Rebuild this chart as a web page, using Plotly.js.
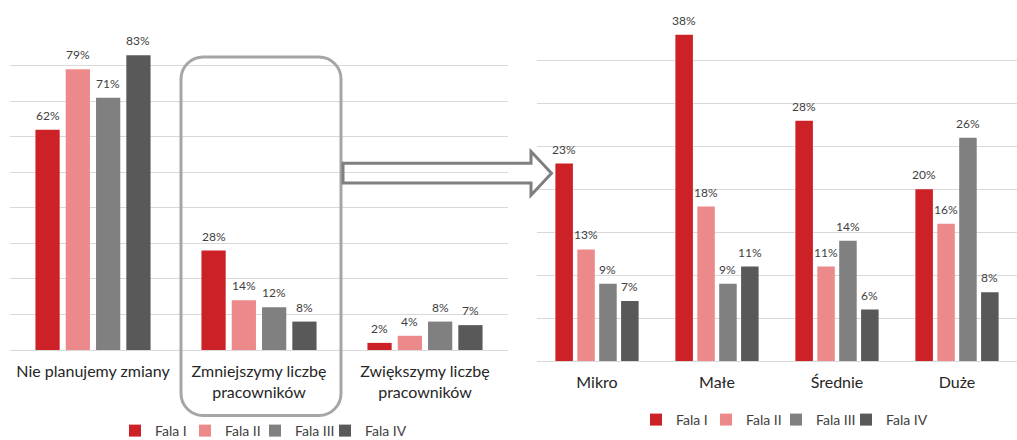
<!DOCTYPE html>
<html>
<head>
<meta charset="utf-8">
<script src="https://cdn.plot.ly/plotly-3.0.1.min.js"></script>
<style>
  html, body { margin: 0; padding: 0; background: #ffffff; }
  #chart { width: 1017px; height: 440px; }
</style>
</head>
<body>
<div id="chart"></div>
<script>
// ---- data ----
const waveNames = ['Fala I', 'Fala II', 'Fala III', 'Fala IV'];

const leftCategories = ['Nie planujemy zmiany', 'Zmniejszymy liczbę<br>pracowników', 'Zwiększymy liczbę<br>pracowników'];
const leftFala1 = [62, 28, 2];
const leftFala2 = [79, 14, 4];
const leftFala3 = [71, 12, 8];
const leftFala4 = [83, 8, 7];

const rightCategories = ['Mikro', 'Małe', 'Średnie', 'Duże'];
const rightFala1 = [23, 38, 28, 20];
const rightFala2 = [13, 18, 11, 16];
const rightFala3 = [9, 9, 14, 26];
const rightFala4 = [7, 11, 6, 8];

// ---- style ----
const colors = ['#cc2126', '#ec8a8b', '#808080', '#595959'];
const FONT = 'Lato, "Open Sans", sans-serif';
const W = 1017, H = 440, ML = 10, MR = 0, MT = 0, MB = 0;
const PW = W - ML - MR, PH = H - MT - MB;
const px = x => (x - ML) / PW;
const py = y => (H - MB - y) / PH;

const BARGAP = 0.27, BARGROUPGAP = 0.2;
const leftDomain = [px(10), px(508)];
const rightDomain = [px(537), 1];
const leftYDomain = [py(350), py(30.3)];
const rightYDomain = [py(361), py(17.7)];

const leftSeries = [leftFala1, leftFala2, leftFala3, leftFala4];
const rightSeries = [rightFala1, rightFala2, rightFala3, rightFala4];

const traces = [];
function addBars(series, cats, xa, ya, lg) {
  series.forEach((vals, i) => {
    traces.push({
      type: 'bar', x: cats, y: vals, name: waveNames[i],
      marker: { color: colors[i], line: { width: 0 } },
      xaxis: xa, yaxis: ya, legend: lg, hoverinfo: 'skip',
      legendwidth: i === series.length - 1 ? 50 : 25
    });
  });
}
addBars(leftSeries, leftCategories, 'x', 'y', 'legend');
addBars(rightSeries, rightCategories, 'x2', 'y2', 'legend2');

// value labels as annotations placed over each bar
const annotations = [];
function addLabels(series, cats, domain, xref, yref) {
  const catW = (domain[1] - domain[0]) * PW / cats.length;
  const slot = catW * (1 - BARGAP) / series.length;
  series.forEach((vals, i) => {
    vals.forEach((v, j) => {
      annotations.push({
        x: cats[j], y: v, xref: xref, yref: yref,
        text: v + '%', showarrow: false,
        xanchor: 'center', yanchor: 'bottom',
        xshift: (i - (series.length - 1) / 2) * slot,
        yshift: 5,
        font: { family: FONT, size: 12, color: '#404040' }
      });
    });
  });
}
addLabels(leftSeries, leftCategories, leftDomain, 'x', 'y');
addLabels(rightSeries, rightCategories, rightDomain, 'x2', 'y2');

// decorative shapes
function roundedRect(l, t, r, b, rad) {
  const k = 0.5523 * rad;
  const P = (x, y) => px(x) + ',' + py(y);
  return 'M' + P(l + rad, t) +
    ' L' + P(r - rad, t) +
    ' C' + P(r - rad + k, t) + ' ' + P(r, t + rad - k) + ' ' + P(r, t + rad) +
    ' L' + P(r, b - rad) +
    ' C' + P(r, b - rad + k) + ' ' + P(r - rad + k, b) + ' ' + P(r - rad, b) +
    ' L' + P(l + rad, b) +
    ' C' + P(l + rad - k, b) + ' ' + P(l, b - rad + k) + ' ' + P(l, b - rad) +
    ' L' + P(l, t + rad) +
    ' C' + P(l, t + rad - k) + ' ' + P(l + rad - k, t) + ' ' + P(l + rad, t) + ' Z';
}
function arrowPath() {
  const P = (x, y) => px(x) + ',' + py(y);
  return 'M' + P(343, 163.3) + ' L' + P(531, 163.3) + ' L' + P(531, 151.5) +
    ' L' + P(551.5, 173.3) + ' L' + P(531, 195.2) + ' L' + P(531, 183) +
    ' L' + P(343, 183) + ' Z';
}
const shapes = [
  { type: 'path', xref: 'paper', yref: 'paper', path: roundedRect(181, 57, 341, 415.5, 22),
    line: { color: '#a6a6a6', width: 3 }, fillcolor: 'rgba(0,0,0,0)', layer: 'above' },
  { type: 'path', xref: 'paper', yref: 'paper', path: arrowPath(),
    line: { color: '#7f7f7f', width: 3 }, fillcolor: 'rgba(0,0,0,0)', layer: 'above' }
];

const axisX = (domain, anchor) => ({
  type: 'category', domain: domain, anchor: anchor,
  showgrid: false, showline: false, ticks: '', zeroline: false,
  tickfont: { family: FONT, size: 16, color: '#262626' },
  ticklabelstandoff: 10, fixedrange: true
});
const axisY = (domain, anchor, range, dtick) => ({
  domain: domain, anchor: anchor, range: range, dtick: dtick,
  showgrid: true, gridcolor: '#d9d9d9', gridwidth: 1,
  zeroline: true, zerolinecolor: '#d9d9d9', zerolinewidth: 1,
  showticklabels: false, ticks: '', showline: false, fixedrange: true
});

const legendBase = {
  orientation: 'h', xanchor: 'left', yanchor: 'middle',
  font: { family: FONT, size: 14, color: '#404040' },
  bgcolor: 'rgba(0,0,0,0)', borderwidth: 0,
  entrywidthmode: 'pixels', traceorder: 'normal'
};

const layout = {
  width: W, height: H,
  margin: { l: ML, r: MR, t: MT, b: MB, autoexpand: false },
  paper_bgcolor: '#ffffff', plot_bgcolor: 'rgba(0,0,0,0)',
  barmode: 'group', bargap: BARGAP, bargroupgap: BARGROUPGAP,
  showlegend: true, hovermode: false,
  font: { family: FONT, color: '#404040' },
  xaxis: axisX(leftDomain, 'y'),
  yaxis: axisY(leftYDomain, 'x', [0, 90], 10),
  xaxis2: axisX(rightDomain, 'y2'),
  yaxis2: axisY(rightYDomain, 'x2', [0, 40], 5),
  legend: Object.assign({}, legendBase, { x: px(115), y: py(431) }),
  legend2: Object.assign({}, legendBase, { x: px(636), y: py(420) }),
  annotations: annotations,
  shapes: shapes
};

Plotly.newPlot('chart', traces, layout, { displayModeBar: false, staticPlot: true });
</script>
</body>
</html>
